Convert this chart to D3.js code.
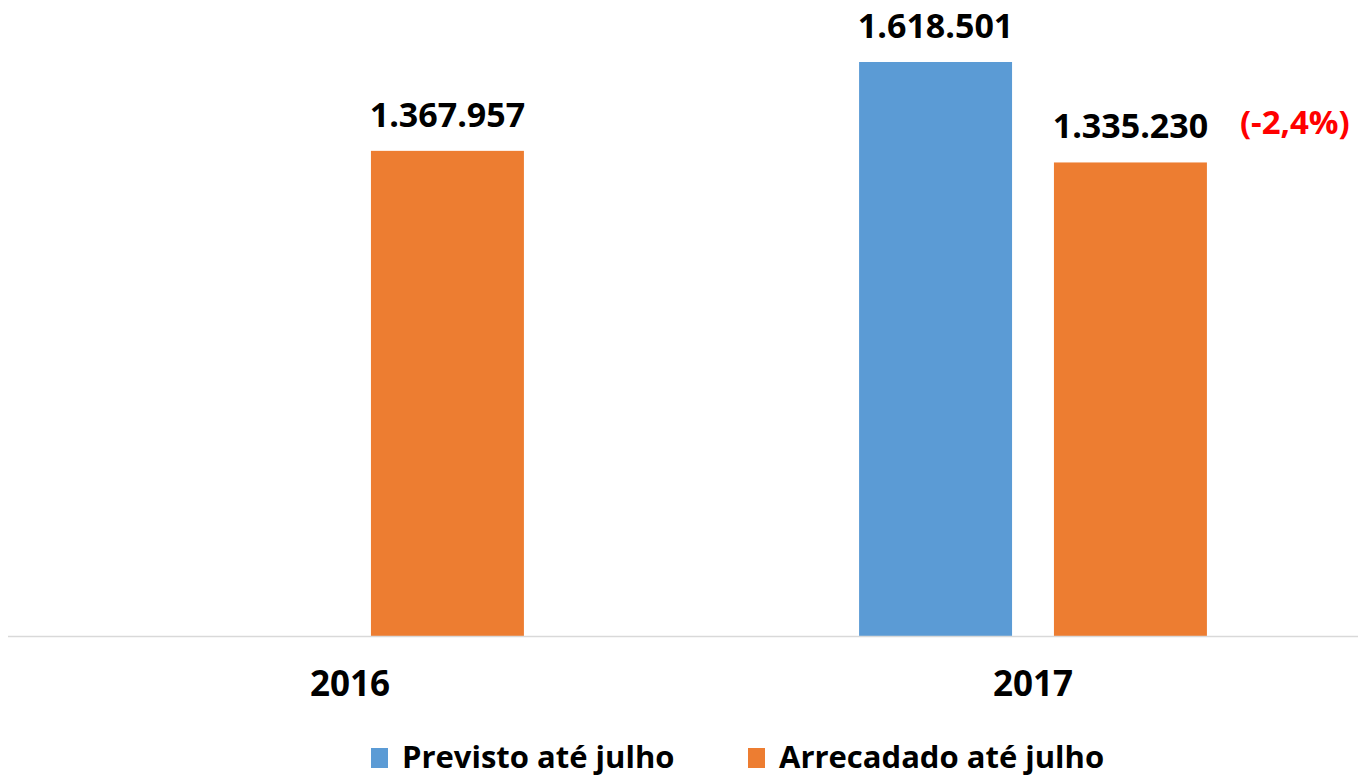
<!DOCTYPE html>
<html>
<head>
<meta charset="utf-8">
<script src="https://cdn.jsdelivr.net/npm/d3@7"></script>
<style>
  body { margin: 0; background: #fff; }
  text { font-family: "Open Sans", "Noto Sans", sans-serif; font-weight: bold; }
</style>
</head>
<body>
<div id="chart"></div>
<script>
// data
var years = ["2016", "2017"];
var series = ["Previsto até julho", "Arrecadado até julho"];
var previsto = [null, 1618501];
var arrecadado = [1367957, 1335230];
var colors = ["#5b9bd5", "#ed7d31"];
var changeNote = "(-2,4%)";

var width = 1358, height = 778;

var svg = d3.select("#chart").append("svg")
  .attr("width", width)
  .attr("height", height);

var x0 = d3.scaleBand()
  .domain(years)
  .range([8.5, 1374.5]);

var x1 = d3.scaleBand()
  .domain(series)
  .range([0, x0.bandwidth()])
  .paddingInner(0.215)
  .paddingOuter(0.86);

var y = d3.scaleLinear()
  .domain([0, 1618501])
  .range([636, 62]);

var fmt = function (v) {
  return d3.format(",")(v).replace(/,/g, ".");
};

var rows = [];
years.forEach(function (yr, i) {
  if (previsto[i] != null) rows.push({ year: yr, s: series[0], v: previsto[i], c: colors[0] });
  if (arrecadado[i] != null) rows.push({ year: yr, s: series[1], v: arrecadado[i], c: colors[1] });
});

// bars
svg.append("g").selectAll("rect")
  .data(rows)
  .enter().append("rect")
  .attr("x", function (d) { return x0(d.year) + x1(d.s); })
  .attr("y", function (d) { return y(d.v); })
  .attr("width", x1.bandwidth())
  .attr("height", function (d) { return y(0) - y(d.v); })
  .attr("fill", function (d) { return d.c; });

// baseline
svg.append("line")
  .attr("x1", 8).attr("x2", width)
  .attr("y1", y(0) + 0.5).attr("y2", y(0) + 0.5)
  .attr("stroke", "#d9d9d9")
  .attr("stroke-width", 1.5);

// value labels
svg.append("g").selectAll("text")
  .data(rows)
  .enter().append("text")
  .attr("x", function (d) { return x0(d.year) + x1(d.s) + x1.bandwidth() / 2; })
  .attr("y", function (d) { return y(d.v) - 24; })
  .attr("text-anchor", "middle")
  .attr("font-size", 34)
  .attr("fill", "#000")
  .text(function (d) { return fmt(d.v); });

// change note next to the last bar
svg.append("text")
  .attr("x", x0("2017") + x1(series[1]) + x1.bandwidth() + 33)
  .attr("y", y(arrecadado[1]) - 28)
  .attr("font-size", 33)
  .attr("fill", "#ff0000")
  .text(changeNote);

// year labels
svg.append("g").selectAll("text")
  .data(years)
  .enter().append("text")
  .attr("x", function (d) { return x0(d) + x0.bandwidth() / 2; })
  .attr("y", 696)
  .attr("text-anchor", "middle")
  .attr("font-size", 35)
  .attr("fill", "#000")
  .text(function (d) { return d; });

// legend
var legendX = [371, 748];
var legend = svg.append("g").selectAll("g")
  .data(series)
  .enter().append("g")
  .attr("transform", function (d, i) { return "translate(" + legendX[i] + ",748)"; });

legend.append("rect")
  .attr("width", 17)
  .attr("height", 20)
  .attr("fill", function (d, i) { return colors[i]; });

legend.append("text")
  .attr("x", 31)
  .attr("y", 20)
  .attr("font-size", 31)
  .attr("fill", "#000")
  .text(function (d) { return d; });
</script>
</body>
</html>
